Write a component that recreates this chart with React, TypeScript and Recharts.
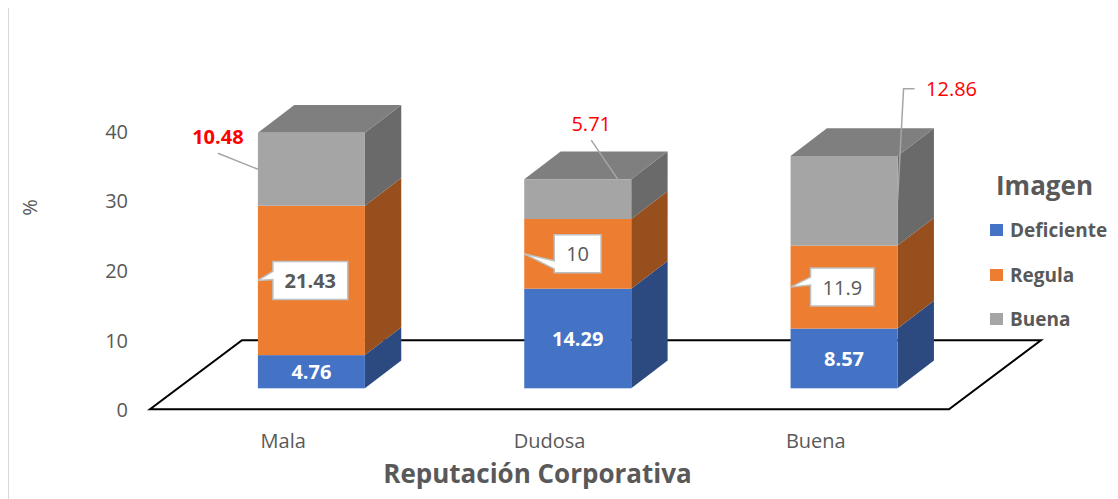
import React from 'react'
import { BarChart, Bar, XAxis, YAxis, ReferenceLine, Legend, LabelList } from 'recharts'

const categories = ['Mala', 'Dudosa', 'Buena']
const deficiente = [4.76, 14.29, 8.57]
const regula = [21.43, 10, 11.9]
const buena = [10.48, 5.71, 12.86]
const yTicks = [0, 10, 20, 30, 40]

const data = categories.map((name, i) => ({
  name,
  Deficiente: deficiente[i],
  Regula: regula[i],
  Buena: buena[i],
}))

const series = [
  { key: 'Deficiente', front: '#4472C4', side: '#2C4A80' },
  { key: 'Regula', front: '#ED7D31', side: '#984F1E' },
  { key: 'Buena', front: '#A5A5A5', side: '#6A6A6A', top: '#7F7F7F' },
]

const TEXT = '#595959'
const FONT = '"Open Sans", sans-serif'

// label placement tweaks (Excel had these dragged by hand)
const calloutShift = [15, 30, 20]
const calloutWedge = [-9, 7, -10]
const calloutBold = [true, false, false]
const redLabels = [
  { edge: 'left', dx: -40, dy: -33, elbow: false, bold: true },
  { edge: 'right', dx: -40, dy: -76, elbow: false, bold: false },
  { edge: 'right', dx: 54, dy: -112, elbow: true, bold: false },
]

const makeShape = (side: string, top?: string) => (p: any) => {
  const { x, y, width: w, height: h, fill } = p
  if (!w || h == null) return <g />
  const dx = w * 0.34
  const dy = w * 0.26
  return (
    <g>
      <polygon points={`${x + w},${y} ${x + w + dx},${y - dy} ${x + w + dx},${y + h - dy} ${x + w},${y + h}`} fill={side} />
      {top && <polygon points={`${x},${y} ${x + dx},${y - dy} ${x + w + dx},${y - dy} ${x + w},${y}`} fill={top} />}
      <rect x={x} y={y} width={w} height={h} fill={fill} />
    </g>
  )
}

const textWidth = (s: string) => s.split('').reduce((a, c) => a + (c === '.' ? 5.3 : 11.4), 0)

const Floor = (p: any) => {
  const { x1, y1, x2 } = p
  const pts = [
    [x1 - 28, y1 + 21],
    [x2 - 28, y1 + 21],
    [x2 + 64, y1 - 48],
    [x1 + 64, y1 - 48],
  ]
  return <polygon points={pts.map((q) => q.join(',')).join(' ')} fill="none" stroke="#000" strokeWidth={2} />
}

const BlueLabel = (p: any) => (
  <text x={p.x + p.width / 2} y={p.y + p.height / 2} textAnchor="middle" dominantBaseline="central"
    fill="#fff" fontWeight="bold" fontSize={20} fontFamily={FONT}>{p.value}</text>
)

const Callout = (p: any) => {
  const i = p.index ?? 0
  const px = p.x
  const py = p.y + p.height / 2
  const s = String(p.value)
  const bw = textWidth(s) + 24
  const bh = 38
  const bx = px + calloutShift[i]
  const by = py - bh / 2
  const wa = py + calloutWedge[i]
  const d = `M${bx},${by} H${bx + bw} V${by + bh} H${bx} V${wa + 8} L${px},${py} L${bx},${wa} Z`
  return (
    <g>
      <path d={d} fill="#fff" stroke="#BFBFBF" strokeWidth={1.5} />
      <text x={bx + bw / 2} y={py} textAnchor="middle" dominantBaseline="central" fill={TEXT}
        fontWeight={calloutBold[i] ? 'bold' : 'normal'} fontSize={20} fontFamily={FONT}>{s}</text>
    </g>
  )
}

const RedLabel = (p: any) => {
  const i = p.index ?? 0
  const cfg = redLabels[i]
  const px = cfg.edge === 'left' ? p.x : p.x + p.width
  const py = p.y + p.height / 2
  const lx = px + cfg.dx
  const ly = py + cfg.dy
  const leader = cfg.elbow
    ? `M${lx - 37},${ly} H${lx - 48} L${px},${py}`
    : `M${lx},${ly + 17} L${px},${py}`
  return (
    <g>
      <path d={leader} fill="none" stroke="#A6A6A6" strokeWidth={1.5} />
      <text x={lx} y={ly} textAnchor="middle" dominantBaseline="central" fill="#FF0000"
        fontWeight={cfg.bold ? 'bold' : 'normal'} fontSize={20} fontFamily={FONT}>{p.value}</text>
    </g>
  )
}

const YTick = (p: any) => (
  <text x={p.x - 42} y={p.y + 21.5} textAnchor="end" dominantBaseline="central" fill={TEXT}
    fontSize={20} fontFamily={FONT}>{p.payload.value}</text>
)

const XTick = (p: any) => (
  <text x={p.x - 28} y={p.y + 44} textAnchor="middle" dominantBaseline="central" fill={TEXT}
    fontSize={20} fontFamily={FONT}>{p.payload.value}</text>
)

const renderLegend = () => (
  <div style={{ fontFamily: FONT, color: TEXT }}>
    <div style={{ height: 46, lineHeight: '46px', fontSize: 26, fontWeight: 700, paddingLeft: 6 }}>Imagen</div>
    {series.map((s) => (
      <div key={s.key} style={{ height: 44.6, display: 'flex', alignItems: 'center' }}>
        <span style={{ width: 13, height: 12, background: s.front, marginRight: 7, display: 'inline-block' }} />
        <span style={{ fontSize: 19, fontWeight: 700 }}>{s.key}</span>
      </div>
    ))}
  </div>
)

export default function App() {
  return (
    <div style={{ width: 1128, height: 508, border: '1px solid #D9D9D9', marginTop: -2, background: '#fff' }}>
      <style>{'body{overflow:hidden}'}</style>
      <BarChart width={1128} height={508} data={data} barCategoryGap="30%"
        margin={{ top: 102.5, right: 160, bottom: 96.7, left: 109 }}>
        <ReferenceLine y={0} shape={Floor} zIndex={-50} />
        <XAxis dataKey="name" axisLine={false} tickLine={false} height={30} tick={XTick}
          label={{
            content: (lp: any) => {
              const vb = lp.viewBox || {}
              return (
                <text x={vb.x + vb.width / 2 - 40} y={vb.y + 85} textAnchor="middle" dominantBaseline="central"
                  fill={TEXT} fontWeight="bold" fontSize={26} fontFamily={FONT}>Reputación Corporativa</text>
              )
            },
          }}
        />
        <YAxis width={60} domain={[0, 40]} ticks={yTicks} axisLine={false} tickLine={false} tick={YTick}
          label={{
            content: (lp: any) => {
              const vb = lp.viewBox || {}
              const cx = vb.x - 88
              const cy = vb.y + vb.height / 2 - 41.5
              return (
                <text x={cx} y={cy} transform={`rotate(-90 ${cx} ${cy})`} textAnchor="middle" dominantBaseline="central"
                  fill={TEXT} fontSize={20} fontFamily={FONT}>%</text>
              )
            },
          }}
        />
        <Legend layout="vertical" align="center" verticalAlign="middle" content={renderLegend}
          wrapperStyle={{ left: 981, top: 155, width: 150 }} />
        <Bar dataKey="Deficiente" stackId="a" fill={series[0].front} shape={makeShape(series[0].side)} isAnimationActive={false}>
          <LabelList dataKey="Deficiente" content={BlueLabel} />
        </Bar>
        <Bar dataKey="Regula" stackId="a" fill={series[1].front} shape={makeShape(series[1].side)} isAnimationActive={false}>
          <LabelList dataKey="Regula" content={Callout} />
        </Bar>
        <Bar dataKey="Buena" stackId="a" fill={series[2].front} shape={makeShape(series[2].side, series[2].top)} isAnimationActive={false}>
          <LabelList dataKey="Buena" content={RedLabel} />
        </Bar>
      </BarChart>
    </div>
  )
}
